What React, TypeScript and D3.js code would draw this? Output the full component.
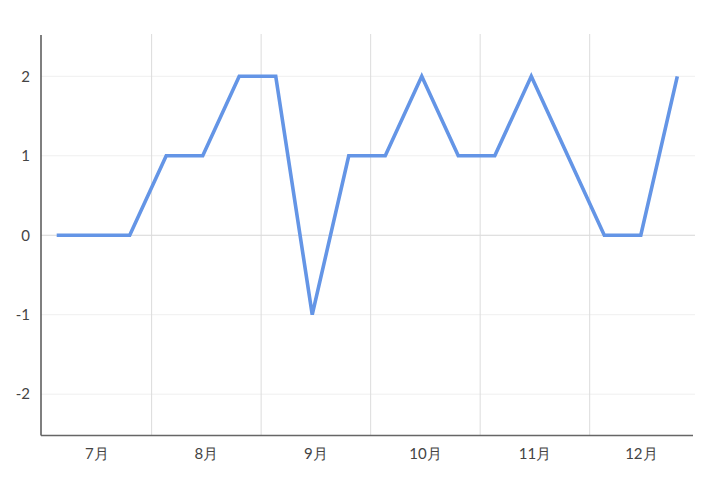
import React from "react";
import * as d3 from "d3";

const months = ["7月", "8月", "9月", "10月", "11月", "12月"];
const pointsPerMonth = 3;
const values = [0, 0, 0, 1, 1, 2, 2, -1, 1, 1, 2, 1, 1, 2, 1, 0, 0, 2];
const yTicks = [-2, -1, 0, 1, 2];

const W = 720;
const H = 489;
const left = 41;
const right = 693;
const top = 35;
const bottom = 435.5;
const monthOffset = -0.4;

export default function App() {
  const x = d3.scaleLinear().domain([-0.43, values.length - 0.57]).range([left, right]);
  const y = d3.scaleLinear().domain([-2.52, 2.52]).range([bottom, top]);

  const line = d3
    .line<number>()
    .x((_, i) => x(i))
    .y((d) => y(d));

  const boundaries = months.slice(1).map((_, m) => (m + 1) * pointsPerMonth + monthOffset);
  const labelPos = months.map((_, m) => {
    const a = Math.max(m * pointsPerMonth + monthOffset, x.domain()[0]);
    const b = Math.min((m + 1) * pointsPerMonth + monthOffset, x.domain()[1]);
    return (a + b) / 2;
  });

  const font = "Lato, 'DejaVu Sans', sans-serif";

  return (
    <svg width={W} height={H} style={{ position: "absolute", left: 0, top: 0, background: "#fff" }}>
      {yTicks.map((t) => (
        <line
          key={"h" + t}
          x1={left}
          x2={695}
          y1={y(t)}
          y2={y(t)}
          stroke={t === 0 ? "#d6d6d6" : "#efefef"}
          strokeWidth={1}
        />
      ))}
      {boundaries.map((b, i) => (
        <line key={"v" + i} x1={x(b)} x2={x(b)} y1={34} y2={bottom} stroke="#dcdcdc" strokeWidth={1} />
      ))}
      <line x1={left} x2={left} y1={top} y2={bottom} stroke="#555" strokeWidth={1.5} />
      <line x1={left} x2={right} y1={bottom} y2={bottom} stroke="#666" strokeWidth={1.5} />
      {yTicks.map((t) => (
        <text
          key={"yl" + t}
          x={30}
          y={y(t)}
          dy="0.35em"
          textAnchor="end"
          fontFamily={font}
          fontSize={15}
          fill="#444"
        >
          {t}
        </text>
      ))}
      {months.map((m, i) => (
        <text
          key={"xl" + m}
          x={x(labelPos[i])}
          y={459}
          textAnchor="middle"
          fontFamily={font}
          fontSize={15}
          fill="#444"
        >
          {m}
        </text>
      ))}
      <path d={line(values) || ""} fill="none" stroke="#6495e6" strokeWidth={3.6} strokeLinejoin="miter" />
    </svg>
  );
}
